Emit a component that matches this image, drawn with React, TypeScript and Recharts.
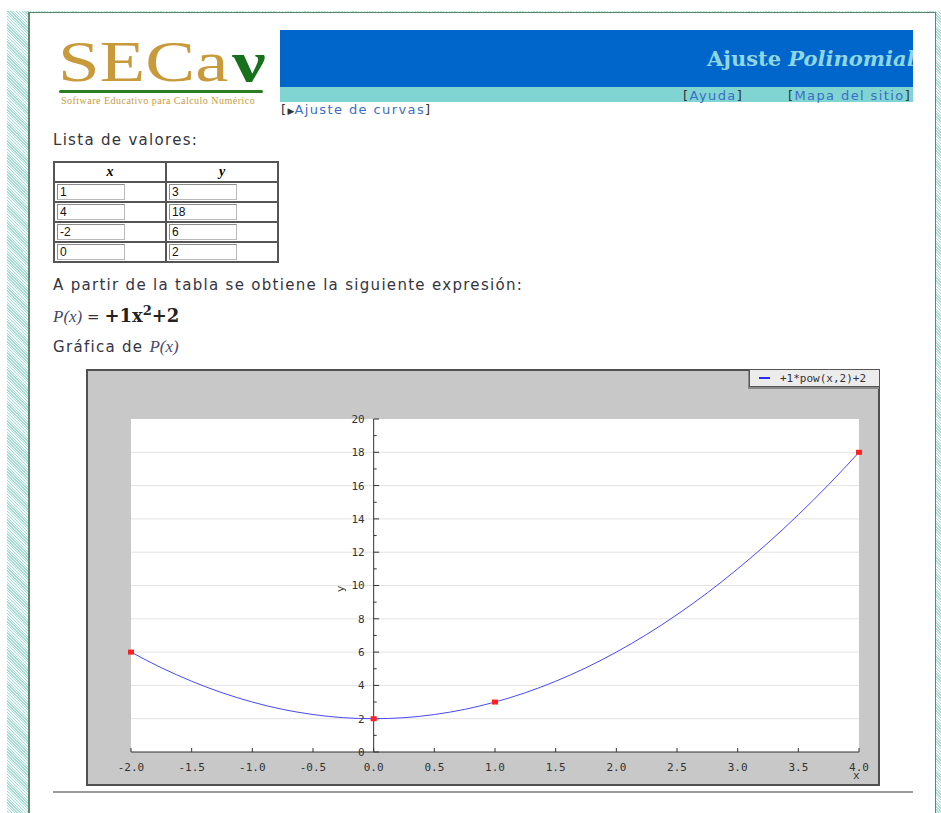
import React from "react"
import { ComposedChart, Line, Scatter, XAxis, YAxis, CartesianGrid, ReferenceLine, Legend } from "recharts"

// values typed into the table on the page
const tableX = ["1", "4", "-2", "0"]
const tableY = ["3", "18", "6", "2"]

// red sample points
const pointX = [1, 4, -2, 0]
const pointY = [3, 18, 6, 2]

// blue curve
const curveX = [-2, -1.75, -1.5, -1.25, -1, -0.75, -0.5, -0.25, 0, 0.25, 0.5, 0.75, 1, 1.25, 1.5, 1.75, 2, 2.25, 2.5, 2.75, 3, 3.25, 3.5, 3.75, 4]
const curveY = [6, 5.06, 4.25, 3.56, 3, 2.56, 2.25, 2.06, 2, 2.06, 2.25, 2.56, 3, 3.56, 4.25, 5.06, 6, 7.06, 8.25, 9.56, 11, 12.56, 14.25, 16.06, 18]

const xTicks = [-2, -1.5, -1, -0.5, 0, 0.5, 1, 1.5, 2, 2.5, 3, 3.5, 4]
const xMinorTicks = Array.from({ length: 61 }, (_, i) => Math.round((-2 + i * 0.1) * 10) / 10)
const yTicks = [0, 2, 4, 6, 8, 10, 12, 14, 16, 18, 20]
const yMinorTicks = [1, 3, 5, 7, 9, 11, 13, 15, 17, 19]
const gridLines = [2, 4, 6, 8, 10, 12, 14, 16, 18]
const legendLabel = "+1*pow(x,2)+2"

const curveData = curveX.map((x, i) => ({ x, y: curveY[i] }))
const pointData = pointX.map((x, i) => ({ x, y: pointY[i] }))

const sans = "'DejaVu Sans', Verdana, sans-serif"
const mono = "'DejaVu Sans Mono', monospace"
const textColor = "#34343f"
const linkColor = "#3a6fc8"

const abs = (left: number, top: number, extra: React.CSSProperties = {}): React.CSSProperties => ({
  position: "absolute",
  left,
  top,
  ...extra,
})

const tickFont = { fill: "#333", fontSize: 11, fontFamily: mono }

function PolyChart() {
  return (
    <ComposedChart width={790} height={413} margin={{ top: 48, right: 19, bottom: 30, left: 43 }}>
      <CartesianGrid vertical={false} horizontalValues={gridLines} stroke="#e3e3e3" fill="#fff" />
      <XAxis
        xAxisId="minor"
        type="number"
        dataKey="x"
        domain={[-2, 4]}
        ticks={xMinorTicks}
        tick={false}
        tickSize={-2}
        height={1}
        axisLine={false}
        tickLine={{ stroke: "#333" }}
      />
      <XAxis
        xAxisId="main"
        type="number"
        dataKey="x"
        domain={[-2, 4]}
        ticks={xTicks}
        interval={0}
        tickFormatter={(v: number) => v.toFixed(1)}
        tickSize={-4}
        tickMargin={15}
        height={1}
        axisLine={{ stroke: "#333" }}
        tickLine={{ stroke: "#333" }}
        tick={tickFont}
        label={(props: any) => (
          <text
            x={props.viewBox.x + props.viewBox.width - 6}
            y={props.viewBox.y + 27}
            fill="#333"
            fontSize={11}
            fontFamily={mono}
          >
            x
          </text>
        )}
      />
      <YAxis type="number" domain={[0, 20]} hide width={0} />
      <Legend
        verticalAlign="middle"
        layout="horizontal"
        wrapperStyle={{ top: -2, left: 661, width: 131, height: 18 }}
        content={() => (
          <div
            style={{
              boxSizing: "border-box",
              width: 131,
              height: 18,
              background: "#ececec",
              border: "1px solid #555",
              boxShadow: "-1px 2px 0 #8a8a8a",
              display: "flex",
              alignItems: "center",
              fontFamily: mono,
              fontSize: 11,
              color: "#333",
            }}
          >
            <span style={{ display: "inline-block", width: 11, height: 2, background: "#2a2aff", marginLeft: 9, marginRight: 10 }} />
            {legendLabel}
          </div>
        )}
      />
      <ReferenceLine
        xAxisId="main"
        x={0}
        stroke="#333"
        label={{ value: "y", position: "left", offset: 34, angle: -90, fill: "#333", fontSize: 11, fontFamily: mono }}
      />
      {yMinorTicks.map((v) => (
        <ReferenceLine key={"m" + v} xAxisId="main" segment={[{ x: 0, y: v }, { x: 0.025, y: v }]} stroke="#333" />
      ))}
      {yTicks.map((v) => (
        <ReferenceLine
          key={"t" + v}
          xAxisId="main"
          segment={[{ x: 0, y: v }, { x: 0.045, y: v }]}
          stroke="#333"
          label={{ value: String(v), position: "left", offset: 9, fill: "#333", fontSize: 11, fontFamily: mono }}
        />
      ))}
      <Line
        xAxisId="main"
        data={curveData}
        dataKey="y"
        type="monotone"
        stroke="#4848ff"
        strokeWidth={1}
        dot={false}
        isAnimationActive={false}
      />
      <Scatter
        xAxisId="main"
        data={pointData}
        dataKey="y"
        isAnimationActive={false}
        shape={(p: any) => <rect x={p.cx - 3} y={p.cy - 2.5} width={6} height={5} fill="#ff2020" />}
      />
    </ComposedChart>
  )
}

const inputStyle: React.CSSProperties = {
  boxSizing: "border-box",
  width: 68,
  height: 16,
  border: "1px solid #b8b8b8",
  borderTopColor: "#8c8c8c",
  borderLeftColor: "#8c8c8c",
  padding: "0 2px",
  fontFamily: "'Liberation Sans', Arial, sans-serif",
  fontSize: 12,
  color: "#111",
  background: "#fff",
  display: "block",
}

const cellStyle: React.CSSProperties = {
  border: "2px solid #555",
  padding: "1px 2px",
  height: 16,
  verticalAlign: "middle",
}

const bodyText: React.CSSProperties = {
  fontFamily: sans,
  fontSize: 15,
  lineHeight: "18px",
  color: textColor,
  letterSpacing: 1.3,
  whiteSpace: "nowrap",
}

const navText: React.CSSProperties = {
  fontFamily: sans,
  fontSize: 13,
  lineHeight: "16px",
  color: "#333",
  letterSpacing: 1.4,
  whiteSpace: "nowrap",
}

export default function App() {
  return (
    <div style={{ position: "absolute", left: 0, top: 0, width: 941, height: 813, background: "#fff", overflow: "hidden" }}>
      {/* hatched page background */}
      <div
        style={abs(7, 11, {
          width: 934,
          height: 802,
          background: "repeating-linear-gradient(45deg, #f2fbf9 0px, #f2fbf9 1px, #a9dcd4 1px, #a9dcd4 2px)",
        })}
      />
      {/* content box */}
      <div
        style={abs(28, 12, {
          width: 908,
          height: 810,
          boxSizing: "border-box",
          background: "#fff",
          borderLeft: "2px solid #5d8a6c",
          borderTop: "1px solid #5d8a6c",
          borderRight: "1px solid #5d8a6c",
        })}
      />

      {/* logo */}
      <div
        style={abs(58, 33, {
          fontFamily: "'Liberation Serif', 'Times New Roman', serif",
          fontSize: 58,
          lineHeight: "58px",
          color: "#c99a3c",
          transform: "scaleX(1.29)",
          transformOrigin: "left top",
          whiteSpace: "nowrap",
        })}
      >
        SECa<span style={{ color: "#16701c", fontWeight: "bold", marginLeft: 3 }}>ν</span>
      </div>
      <div style={abs(59, 90, { width: 204, height: 3, background: "#2d7d22", borderRadius: 2 })} />
      <div
        style={abs(61, 96, {
          fontFamily: "'Liberation Serif', serif",
          fontSize: 10,
          lineHeight: "10px",
          color: "#c99a3c",
          whiteSpace: "nowrap",
          letterSpacing: 0.48,
        })}
      >
        Software Educativo para Calculo Numérico
      </div>

      {/* header bars */}
      <div style={abs(280, 30, { width: 633, height: 57, background: "#0066cc", overflow: "hidden" })}>
        <div
          style={abs(427, 17, {
            fontFamily: "'DejaVu Serif', serif",
            fontWeight: "bold",
            fontSize: 21,
            lineHeight: "24px",
            color: "#8fd6e2",
            whiteSpace: "nowrap",
          })}
        >
          Ajuste <i>Polinomial</i>
        </div>
      </div>
      <div style={abs(280, 87, { width: 633, height: 15, background: "#80d4d2" })} />
      <div style={abs(683, 88, navText)}>
        [<span style={{ color: linkColor }}>Ayuda</span>]
      </div>
      <div style={abs(788, 88, navText)}>
        [<span style={{ color: linkColor }}>Mapa del sitio</span>]
      </div>
      <div style={abs(281, 102, navText)}>
        [<span style={{ fontSize: 9, letterSpacing: 0 }}>▶</span>
        <span style={{ color: linkColor }}>Ajuste de curvas</span>]
      </div>

      {/* body text */}
      <div style={abs(53, 131, bodyText)}>Lista de valores:</div>

      <table style={abs(53, 161, { borderCollapse: "collapse", width: 226 })}>
        <tbody>
          <tr>
            <th style={{ ...cellStyle, height: 14, fontFamily: "'Liberation Serif', serif", fontStyle: "italic", fontSize: 14 }}>x</th>
            <th style={{ ...cellStyle, height: 14, fontFamily: "'Liberation Serif', serif", fontStyle: "italic", fontSize: 14 }}>y</th>
          </tr>
          {tableX.map((xv, i) => (
            <tr key={i}>
              <td style={cellStyle}>
                <input readOnly value={xv} style={inputStyle} />
              </td>
              <td style={cellStyle}>
                <input readOnly value={tableY[i]} style={inputStyle} />
              </td>
            </tr>
          ))}
        </tbody>
      </table>

      <div style={abs(53, 276, bodyText)}>A partir de la tabla se obtiene la siguiente expresión:</div>
      <div style={abs(53, 305, { fontSize: 15, lineHeight: "22px", color: textColor, whiteSpace: "nowrap" })}>
        <span style={{ fontFamily: "'Liberation Serif', serif", fontStyle: "italic", fontSize: 17, color: "#4a4a6a" }}>P(x)</span>
        <span style={{ fontFamily: sans }}> = </span>
        <span style={{ fontFamily: "'DejaVu Serif', serif", fontWeight: "bold", fontSize: 18, color: "#222" }}>
          +1x<sup style={{ fontSize: 13, lineHeight: 0 }}>2</sup>+2
        </span>
      </div>
      <div style={abs(53, 338, bodyText)}>
        Gráfica de{" "}
        <span style={{ fontFamily: "'Liberation Serif', serif", fontStyle: "italic", fontSize: 17, letterSpacing: 0, color: "#4a4a6a" }}>
          P(x)
        </span>
      </div>

      {/* chart box */}
      <div
        style={abs(86, 369, {
          width: 794,
          height: 417,
          boxSizing: "border-box",
          border: "2px solid #505050",
          background: "#c8c8c8",
        })}
      >
        <PolyChart />
      </div>

      <div style={abs(53, 791, { width: 860, height: 2, background: "#9a9a9a" })} />
    </div>
  )
}
